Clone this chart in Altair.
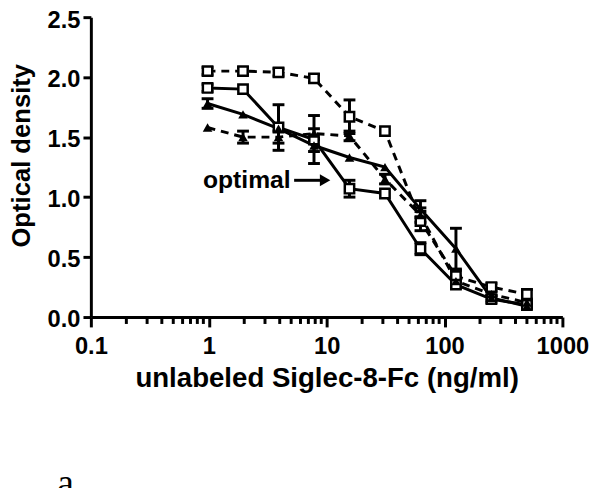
import altair as alt
import pandas as pd

# concentrations (ng/ml), two-fold dilutions from 500
conc = [0.977, 1.953, 3.906, 7.8125, 15.625, 31.25, 62.5, 125, 250, 500]

series_names = ["dashed squares", "solid squares", "solid triangles", "dashed triangles"]
od_dash_sq = [2.05, 2.05, 2.04, 1.99, 1.67, 1.55, 0.80, 0.34, 0.25, 0.19]
od_solid_sq = [1.91, 1.90, 1.58, 1.48, 1.07, 1.03, 0.57, 0.27, 0.15, 0.10]
od_solid_tri = [1.78, 1.69, 1.57, 1.43, 1.33, 1.25, 0.90, 0.57, 0.16, 0.09]
od_dash_tri = [1.58, 1.50, 1.50, 1.53, 1.51, 1.15, 0.85, 0.30, 0.19, 0.12]

err_dash_sq = [0.03, 0.03, 0.03, 0.03, 0.14, 0.0, 0.08, 0.05, 0.03, 0.04]
err_solid_sq = [0.03, 0.0, 0.19, 0.20, 0.07, 0.0, 0.05, 0.03, 0.03, 0.02]
err_solid_tri = [0.04, 0.0, 0.0, 0.05, 0.0, 0.0, 0.07, 0.17, 0.02, 0.02]
err_dash_tri = [0.0, 0.05, 0.05, 0.04, 0.04, 0.04, 0.06, 0.04, 0.02, 0.02]

x_major = [0.1, 1, 10, 100, 1000]
x_minor = [round(m * d, 3) for d in [0.1, 1, 10, 100] for m in range(2, 10)]
y_ticks = [0, 0.5, 1.0, 1.5, 2.0, 2.5]

annot_text = ["optimal"]
annot_x = [4.95]
arrow_x = [5.3, 9.4]
arrow_head_x = [9.7]
annot_y = [1.14]

series_od = [od_dash_sq, od_solid_sq, od_solid_tri, od_dash_tri]
series_err = [err_dash_sq, err_solid_sq, err_solid_tri, err_dash_tri]
series_dashed = [True, False, False, True]
series_shape = ["square", "square", "triangle-up", "triangle-up"]

PLOT_W, PLOT_H = 478, 304

xscale = alt.Scale(type="log", domain=[0.1, 1000], nice=False)
yscale = alt.Scale(domain=[0, 2.5], nice=False, zero=False)

ax_main = alt.Axis(values=x_major,
                   labelExpr="datum.value < 1 ? '0.1' : format(datum.value, 'd')",
                   title="unlabeled Siglec-8-Fc (ng/ml)",
                   tickSize=10, tickWidth=3, tickColor="black", domainWidth=3,
                   domainColor="black", labelFont="Liberation Sans",
                   labelFontWeight="bold", labelFontSize=24, labelColor="black", labelPadding=8,
                   titleFont="Liberation Sans", titleFontWeight="bold", titleFontSize=28,
                   titleColor="black", titleY=62, titleBaseline="middle", grid=False,
                   labelFlush=False, labelOverlap=False, orient="bottom")
ax_y = alt.Axis(values=y_ticks, format=".1f", title="Optical density", tickSize=8, tickWidth=3,
                domainWidth=3, domainColor="black", tickColor="black", labelFont="Liberation Sans",
                labelFontWeight="bold", labelFontSize=24, labelColor="black", labelPadding=3,
                labelOffset=3, titleFont="Liberation Sans", titleFontWeight="bold", titleFontSize=26,
                titleColor="black", titleX=-62, titleY=140, titleBaseline="alphabetic", titleAngle=-90,
                grid=False, labelFlush=False, orient="left")


def X(field):
    return alt.X(field, scale=xscale, axis=ax_main)


def Y(field):
    return alt.Y(field, scale=yscale, axis=ax_y)


layers = []
for name, od, err, dashed, shape in zip(series_names, series_od, series_err, series_dashed, series_shape):
    df = pd.DataFrame({"conc": conc, "od": od, "err": err})
    df["lo"] = df["od"] - df["err"]
    df["hi"] = df["od"] + df["err"]
    base = alt.Chart(df)
    line_kwargs = dict(color="black", strokeWidth=3)
    if dashed:
        line_kwargs["strokeDash"] = [8, 6]
    line = base.mark_line(**line_kwargs).encode(x=X("conc:Q"), y=Y("od:Q"))
    layers.append(line)
    eb = base.transform_filter("datum.err > 0")
    rule = eb.mark_rule(color="black", strokeWidth=3, opacity=1).encode(
        x=X("conc:Q"), y=Y("lo:Q"), y2="hi:Q")
    cap_lo = eb.mark_tick(color="black", orient="horizontal", size=12, thickness=3, opacity=1).encode(
        x=X("conc:Q"), y=Y("lo:Q"))
    cap_hi = eb.mark_tick(color="black", orient="horizontal", size=12, thickness=3, opacity=1).encode(
        x=X("conc:Q"), y=Y("hi:Q"))
    layers += [rule, cap_lo, cap_hi]

for name, od, shape in zip(series_names, series_od, series_shape):
    df = pd.DataFrame({"conc": conc, "od": od})
    if shape == "square":
        mk = alt.Chart(df).mark_point(shape="square", size=90, filled=True, fill="white",
                                      stroke="black", strokeWidth=2.5, opacity=1)
    else:
        mk = alt.Chart(df).mark_point(shape="triangle-up", size=95, filled=True, color="black",
                                      opacity=1)
    layers.append(mk.encode(x=X("conc:Q"), y=Y("od:Q")))

# minor x-axis tick marks, positioned through the log scale
mino = pd.DataFrame({"v": x_minor})
layers.append(alt.Chart(mino).mark_rule(color="black", strokeWidth=3, opacity=1).encode(
    x=X("v:Q"), y=alt.value(PLOT_H), y2=alt.value(PLOT_H + 7)))

ann = pd.DataFrame({"x": annot_x, "y": annot_y, "t": annot_text})
layers.append(alt.Chart(ann).mark_text(align="right", baseline="middle", font="Liberation Sans",
                                       fontWeight="bold", fontSize=25, color="black").encode(
    x=X("x:Q"), y=Y("y:Q"), text="t:N"))

arr = pd.DataFrame({"x": [arrow_x[0]], "x2": [arrow_x[1]], "y": annot_y})
layers.append(alt.Chart(arr).mark_rule(color="black", strokeWidth=3, opacity=1).encode(
    x=X("x:Q"), x2="x2:Q", y=Y("y:Q")))
head = pd.DataFrame({"x": arrow_head_x, "y": annot_y})
layers.append(alt.Chart(head).mark_point(shape="triangle-right", size=150, filled=True,
                                         color="black", opacity=1).encode(
    x=X("x:Q"), y=Y("y:Q")))

lab = pd.DataFrame({"t": ["a"]})
layers.append(alt.Chart(lab).mark_text(align="left", baseline="alphabetic", font="Liberation Serif",
                                       fontSize=38, color="black").encode(
    x=alt.value(-34), y=alt.value(484), text="t:N"))

chart = alt.layer(*layers).properties(
    width=PLOT_W, height=PLOT_H, autosize="none",
    padding={"left": 84, "top": 6, "right": 30, "bottom": 170},
).configure_view(stroke=None)

chart.save("out.html", embed_options={"renderer": "svg", "actions": False})
